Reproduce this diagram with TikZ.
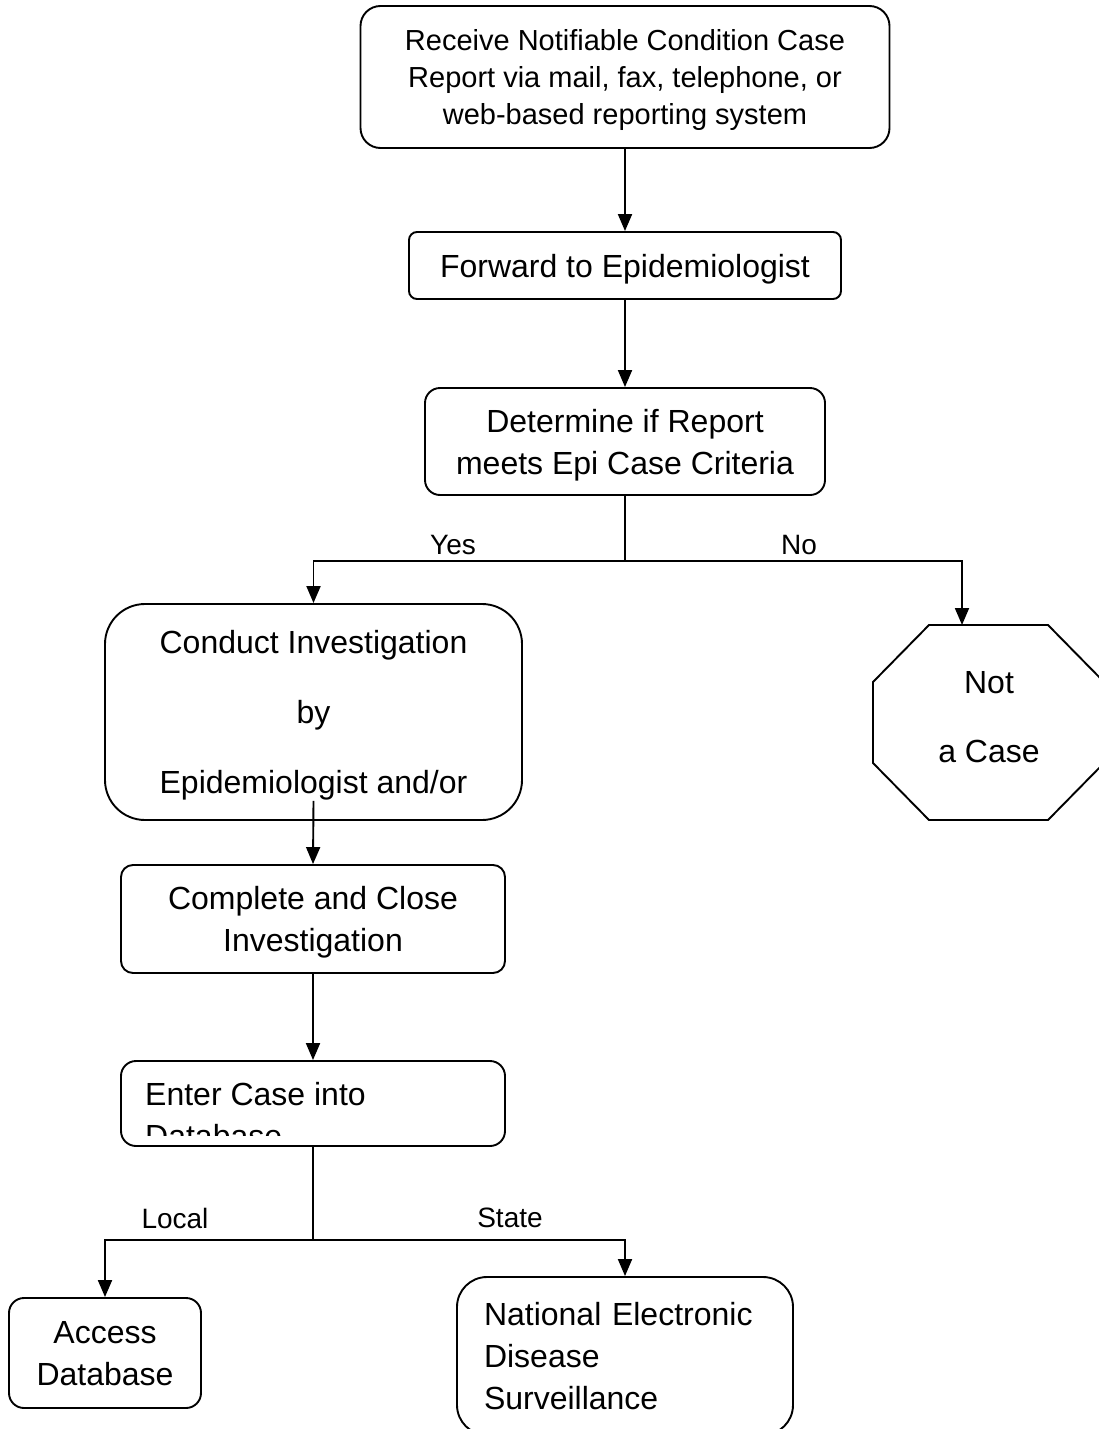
\documentclass[tikz,border=0pt]{standalone}
\usepackage{fontspec}
\setmainfont{Liberation Sans}
\usetikzlibrary{arrows.meta}
\begin{document}
\begin{tikzpicture}[x=1pt,y=-1pt,
  boxbase/.style={draw, line width=1.9pt, inner sep=0pt, font=\fontsize{32}{42}\selectfont},
  box/.style={boxbase, text depth=0pt, align=center},
  arr/.style={line width=1.9pt, -{Triangle[width=14pt,length=17pt]}},
  conn/.style={line width=1.9pt},
  lbl/.style={font=\fontsize{28}{34}\selectfont, inner sep=0pt},
  txt/.style={font=\fontsize{32}{42}\selectfont, inner sep=0pt}]
\useasboundingbox (0,0) rectangle (1099,1429);
\fill[white] (0,0) rectangle (1099,1429);

\node[box, rounded corners=20pt, minimum width=529pt, minimum height=142pt, font=\fontsize{29}{37}\selectfont] (b1) at (625,77)
  {Receive Notifiable Condition Case\\Report via mail, fax, telephone, or\\web-based reporting system};
\node[box, rounded corners=8pt, minimum width=432pt, minimum height=67pt] (b2) at (625,265.5) {Forward to Epidemiologist};
\node[box, rounded corners=15pt, minimum width=400pt, minimum height=107pt] (b3) at (625,441.5) {Determine if Report\\meets Epi Case Criteria};
\node[box, rounded corners=40pt, minimum width=417pt, minimum height=216pt] (b4) at (313.5,712)
  {Conduct Investigation\\[28pt]by\\[28pt]Epidemiologist and/or};
\node[box, rounded corners=12pt, minimum width=384pt, minimum height=108pt] (b5) at (313,919) {Complete and Close\\Investigation};
\node[box, rounded corners=15pt, minimum width=384pt, minimum height=85pt] (b6) at (313,1103.5) {};
\begin{scope}
  \clip (121,1061) rectangle (505,1135);
  \node[txt, anchor=base west] (e1) at (145,1105) {Enter Case into};
  \node[txt, anchor=base west] (e2) at (145,1147) {Database};
\end{scope}
\node[box, rounded corners=15pt, minimum width=192pt, minimum height=110pt] (b7) at (105,1353) {Access\\Database};
\node[boxbase, rounded corners=30pt, minimum height=158pt, align=left, text width=282pt, inner xsep=27pt] (b8) at (625,1356)
  {National Electronic\\Disease\\Surveillance};

% octagon
\draw[conn] (929,625) -- (1048,625) -- (1104,682) -- (1104,763) -- (1048,820) -- (929,820) -- (873,763) -- (873,682) -- cycle;
\node[txt, align=center, text depth=0pt] (notcase) at (989,717) {Not\\[27pt]a Case};
\coordinate (octtop) at (962,625);

% connectors
\draw[arr] (b1.south) -- (b2.north);
\draw[arr] (b2.south) -- (b3.north);
\coordinate (s1) at (625,561);
\draw[conn] (b3.south) -- (s1);
\draw[arr] (s1) -| (b4.north);
\draw[arr] (s1) -| (octtop);
\draw[arr] ([yshift=20pt]b4.south) -- (b5.north);
\draw[arr] (b5.south) -- (b6.north);
\coordinate (s2) at (313,1240);
\draw[conn] (b6.south) -- (s2);
\draw[arr] (s2) -| (b7.north);
\draw[arr] (s2) -| (b8.north);

% labels
\node[lbl] (yes) at (453,545) {Yes};
\node[lbl] (no) at (799,545) {No};
\node[lbl] (local) at (175,1218) {Local};
\node[lbl] (state) at (510,1218) {State};
\end{tikzpicture}
\end{document}
